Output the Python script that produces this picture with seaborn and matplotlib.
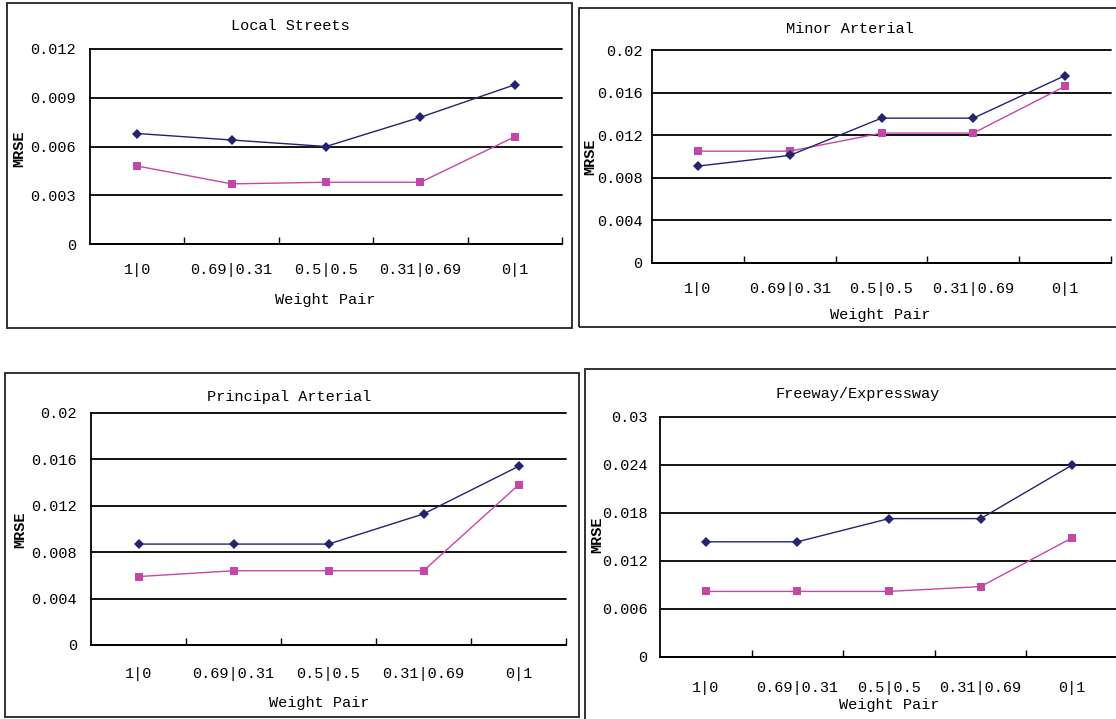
import numpy as np
import pandas as pd
import matplotlib
matplotlib.use("Agg")
import matplotlib.pyplot as plt
from matplotlib.patches import Rectangle
import seaborn as sns

# ---------------- data ----------------
weight_pairs = ["1|0", "0.69|0.31", "0.5|0.5", "0.31|0.69", "0|1"]

local_blue = [0.0068, 0.0064, 0.0060, 0.0078, 0.0098]
local_pink = [0.0048, 0.0037, 0.0038, 0.0038, 0.0066]

minor_blue = [0.0091, 0.0101, 0.0136, 0.0136, 0.0176]
minor_pink = [0.0105, 0.0105, 0.0122, 0.0122, 0.0166]

principal_blue = [0.0087, 0.0087, 0.0087, 0.0113, 0.0154]
principal_pink = [0.0059, 0.0064, 0.0064, 0.0064, 0.0138]

freeway_blue = [0.0144, 0.0144, 0.0173, 0.0173, 0.0240]
freeway_pink = [0.0082, 0.0082, 0.0082, 0.0088, 0.0149]

local_yticks = [0, 0.003, 0.006, 0.009, 0.012]
minor_yticks = [0, 0.004, 0.008, 0.012, 0.016, 0.02]
principal_yticks = [0, 0.004, 0.008, 0.012, 0.016, 0.02]
freeway_yticks = [0, 0.006, 0.012, 0.018, 0.024, 0.03]

titles = ["Local Streets", "Minor Arterial", "Principal Arterial", "Freeway/Expressway"]

# ---------------- style ----------------
sns.set_theme(style="white")
plt.rcParams["font.family"] = ["Liberation Mono", "DejaVu Sans Mono"]
plt.rcParams["font.size"] = 11
plt.rcParams["text.color"] = "black"
plt.rcParams["axes.labelcolor"] = "black"
plt.rcParams["xtick.color"] = "black"
plt.rcParams["ytick.color"] = "black"

W, H = 1116, 719
fig = plt.figure(figsize=(W / 100, H / 100), dpi=100)
fig.patch.set_facecolor("white")

BLUE = "#23236e"
PINK = "#c447a8"


def rect(l, r, t, b):
    return [l / W, 1 - b / H, (r - l) / W, (b - t) / H]


panels = [
    dict(title=titles[0], blue=local_blue, pink=local_pink, yt=local_yticks,
         box=(90, 562, 49, 244), frame=(7, 3, 572, 328),
         tpos=(0.424, 1.118), xl=(0.498, -0.287), yl=(-0.150, 0.49), xpad=14, ypad=10),
    dict(title=titles[1], blue=minor_blue, pink=minor_pink, yt=minor_yticks,
         box=(652, 1111, 50, 263), frame=(579, 8, 1118, 327),
         tpos=(0.431, 1.099), xl=(0.497, -0.244), yl=(-0.135, 0.498), xpad=14, ypad=7),
    dict(title=titles[2], blue=principal_blue, pink=principal_pink, yt=principal_yticks,
         box=(91, 566, 413, 645), frame=(5, 373, 579, 717),
         tpos=(0.417, 1.069), xl=(0.48, -0.25), yl=(-0.149, 0.496), xpad=16, ypad=10),
    dict(title=titles[3], blue=freeway_blue, pink=freeway_pink, yt=freeway_yticks,
         box=(660, 1118, 417, 657), frame=(585, 369, 1118, 721),
         tpos=(0.432, 1.096), xl=(0.5, -0.2), yl=(-0.138, 0.508), xpad=17, ypad=9),
]

for p in panels:
    fl, ft, fr, fb = p["frame"]
    fig.add_artist(Rectangle((fl / W, 1 - fb / H), (fr - fl) / W, (fb - ft) / H,
                             transform=fig.transFigure, fill=False,
                             edgecolor="#222222", linewidth=1.3))

    ax = fig.add_axes(rect(*p["box"]))
    ax.set_facecolor("white")

    df_blue = pd.DataFrame({"pair": weight_pairs, "MRSE": p["blue"]})
    df_pink = pd.DataFrame({"pair": weight_pairs, "MRSE": p["pink"]})

    sns.lineplot(data=df_blue, x="pair", y="MRSE", sort=False, ax=ax,
                 color=BLUE, linewidth=1.0, marker="D", markersize=5.5,
                 markeredgewidth=0, zorder=4)
    sns.lineplot(data=df_pink, x="pair", y="MRSE", sort=False, ax=ax,
                 color=PINK, linewidth=1.0, marker="s", markersize=5.5,
                 markeredgewidth=0, zorder=3)

    ax.set_xlim(-0.5, 4.5)
    ax.set_ylim(p["yt"][0], p["yt"][-1])
    ax.set_yticks(p["yt"])
    ax.set_yticklabels([f"{v:g}" for v in p["yt"]])
    ax.yaxis.grid(True, color="black", linewidth=1.3)
    ax.xaxis.grid(False)
    ax.set_axisbelow(True)
    for gl in ax.get_ygridlines():
        gl.set_clip_on(False)

    ax.set_xticks(range(len(weight_pairs)))
    ax.set_xticklabels(weight_pairs)
    ax.set_xticks([0.5, 1.5, 2.5, 3.5, 4.5], minor=True)
    ax.tick_params(axis="x", which="major", length=0, pad=p["xpad"], labelsize=11)
    ax.tick_params(axis="x", which="minor", length=5, width=1.0, direction="in",
                   color="black", bottom=True)
    ax.tick_params(axis="y", length=0, pad=p["ypad"], labelsize=11)

    for s in ["top", "right"]:
        ax.spines[s].set_visible(False)
    for s in ["left", "bottom"]:
        ax.spines[s].set_color("black")
        ax.spines[s].set_linewidth(1.3)

    ax.set_title(p["title"], fontsize=11, x=p["tpos"][0], y=p["tpos"][1],
                 va="center", pad=0)
    ax.set_xlabel("Weight Pair", fontsize=11)
    ax.xaxis.set_label_coords(*p["xl"])
    ax.xaxis.label.set_va("center")
    ax.set_ylabel("MRSE", fontsize=11, fontweight="bold")
    ax.yaxis.set_label_coords(*p["yl"])
    ax.yaxis.label.set_va("center")

fig.savefig("out.png", dpi=100, facecolor="white")
